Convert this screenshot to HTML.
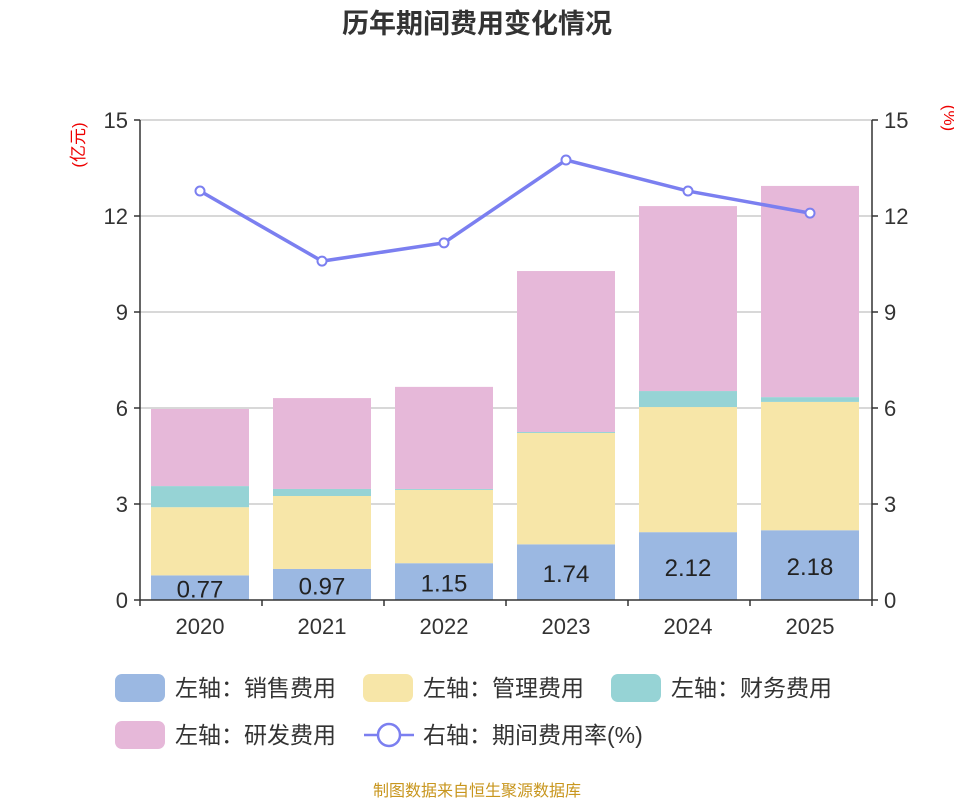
<!DOCTYPE html>
<html><head><meta charset="utf-8"><style>
body{margin:0;background:#fff;}
svg text{font-family:"Liberation Sans","Noto Sans CJK SC",sans-serif;}
</style></head><body>
<svg id="c" width="954" height="800">
<text x="477" y="33" text-anchor="middle" font-size="27" font-weight="bold" fill="#333">历年期间费用变化情况</text>
<text transform="translate(84,145) rotate(-90)" text-anchor="middle" font-size="17" fill="#e00">(亿元)</text>
<text transform="translate(944,118) rotate(90)" text-anchor="middle" font-size="17" fill="#e00">(%)</text>
<g id="grid"></g><g id="bars"></g><g id="axes"></g><g id="line"></g>
<g id="legend"></g>
<text x="477" y="796" text-anchor="middle" font-size="16" fill="#c8961e">制图数据来自恒生聚源数据库</text>
</svg>
<script>
const categories=["2020","2021","2022","2023","2024","2025"];
const sales=[0.77,0.97,1.15,1.74,2.12,2.18];
const mgmt=[2.13,2.28,2.29,3.48,3.91,4.01];
const finance=[0.66,0.22,0.03,0.03,0.50,0.15];
const rnd=[2.41,2.84,3.19,5.03,5.78,6.60];
const rate=[12.78,10.59,11.16,13.75,12.78,12.09];
const ticks=[0,3,6,9,12,15];
const NS="http://www.w3.org/2000/svg";
const x0=140,x1=872,yTop=120,yBot=600,maxV=15;
const bw=(x1-x0)/categories.length;
const y=v=>yBot-v/maxV*(yBot-yTop);
const xc=i=>x0+bw*(i+0.5)-1;
function mk(p,t,a){const e=document.createElementNS(NS,t);for(const k in a)e.setAttribute(k,a[k]);document.getElementById(p).appendChild(e);return e;}
ticks.forEach(t=>{
 if(t>0){const g=mk("grid","line",{x1:x0,x2:x1,y1:y(t),y2:y(t),stroke:"#ccc","stroke-width":1.5});
 
 }
 const l=mk("axes","text",{x:x0-12,y:y(t)+8,"text-anchor":"end","font-size":22,fill:"#333"});l.textContent=t;
 
 
 const r=mk("axes","text",{x:x1+12,y:y(t)+8,"font-size":22,fill:"#333"});r.textContent=t;
 
 
 mk("axes","line",{x1:x0-6,x2:x0,y1:y(t),y2:y(t),stroke:"#333","stroke-width":1.5});
 mk("axes","line",{x1:x1,x2:x1+6,y1:y(t),y2:y(t),stroke:"#333","stroke-width":1.5});
});
mk("axes","line",{x1:x0,x2:x0,y1:yTop,y2:yBot,stroke:"#333","stroke-width":1.5});
mk("axes","line",{x1:x1,x2:x1,y1:yTop,y2:yBot,stroke:"#333","stroke-width":1.5});
mk("axes","line",{x1:x0,x2:x1,y1:yBot,y2:yBot,stroke:"#333","stroke-width":1.5});
for(let i=0;i<=categories.length;i++)mk("axes","line",{x1:x0+bw*i,x2:x0+bw*i,y1:yBot,y2:yBot+6,stroke:"#333","stroke-width":1.5});
const series=[[sales,"#9bb8e2","bar-sales"],[mgmt,"#f7e6a8","bar-management"],[finance,"#96d3d5","bar-finance"],[rnd,"#e6b8d9","bar-rnd"]];
categories.forEach((c,i)=>{
 let base=0;
 series.forEach(([arr,col,nm])=>{
  const r=mk("bars","rect",{x:xc(i)-49,width:98,y:y(base+arr[i]),height:y(base)-y(base+arr[i]),fill:col});
  
  
  base+=arr[i];
 });
 const v=mk("bars","text",{x:xc(i),y:(y(0)+y(sales[i]))/2+10,"text-anchor":"middle","font-size":24,fill:"#222"});v.textContent=sales[i].toFixed(2);
 
 
 const t=mk("axes","text",{x:xc(i),y:634,"text-anchor":"middle","font-size":22,fill:"#333"});t.textContent=c;
 
 
});
const pl=mk("line","polyline",{points:rate.map((v,i)=>xc(i)+","+y(v)).join(" "),fill:"none",stroke:"#7b7ff0","stroke-width":3.5});


rate.forEach((v,i)=>{const p=mk("line","circle",{cx:xc(i),cy:y(v),r:4.5,fill:"#fff",stroke:"#7b7ff0","stroke-width":2});
 
 });
const leg=[["左轴：销售费用","#9bb8e2",115,688],["左轴：管理费用","#f7e6a8",363,688],["左轴：财务费用","#96d3d5",611,688],["左轴：研发费用","#e6b8d9",115,735]];
leg.forEach(([t,c,lx,ly])=>{
 const r=mk("legend","rect",{x:lx,y:ly-14,width:50,height:28,rx:7,fill:c});
 
 
 const s=mk("legend","text",{x:lx+60,y:ly+8,"font-size":23,fill:"#333"});s.textContent=t;
 
 
});
mk("legend","line",{x1:364,x2:414,y1:735,y2:735,stroke:"#7b7ff0","stroke-width":2.5});
mk("legend","circle",{cx:389,cy:735,r:11,fill:"#fff",stroke:"#7b7ff0","stroke-width":2.5});
const lt=mk("legend","text",{x:423,y:743,"font-size":23,fill:"#333"});lt.textContent="右轴：期间费用率(%)";


</script>
</body></html>
